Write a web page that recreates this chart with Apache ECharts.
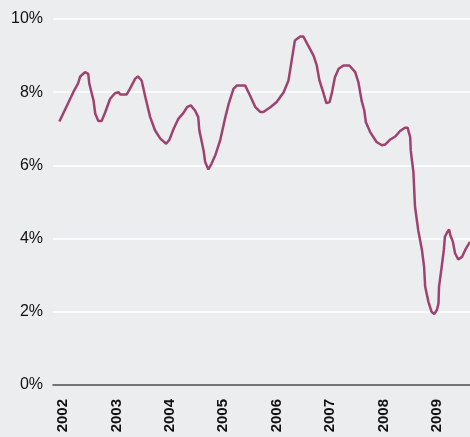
<!DOCTYPE html>
<html>
<head>
<meta charset="utf-8">
<style>
  html, body { margin: 0; padding: 0; background: #ecedef; }
  #chart { width: 470px; height: 437px; }
</style>
<script src="https://cdn.jsdelivr.net/npm/echarts@6/dist/echarts.min.js"></script>
</head>
<body>
<div id="chart"></div>
<script>
// dates as decimal years, rates in percent
var dates = [
  2001.93, 2002.19, 2002.28, 2002.32, 2002.41, 2002.47, 2002.49, 2002.57, 2002.60, 2002.66,
  2002.72, 2002.79, 2002.88, 2002.97, 2003.04, 2003.07, 2003.19, 2003.25, 2003.35, 2003.40,
  2003.47, 2003.54, 2003.63, 2003.72, 2003.82, 2003.93, 2003.99, 2004.07, 2004.16, 2004.25,
  2004.32, 2004.39, 2004.47, 2004.53, 2004.55, 2004.63, 2004.66, 2004.72, 2004.78, 2004.85,
  2004.94, 2005.03, 2005.10, 2005.19, 2005.25, 2005.41, 2005.50, 2005.60, 2005.69, 2005.75,
  2005.88, 2006.00, 2006.13, 2006.22, 2006.25, 2006.30, 2006.34, 2006.44, 2006.50, 2006.59,
  2006.69, 2006.75, 2006.80, 2006.87, 2006.93, 2006.99, 2007.03, 2007.09, 2007.16, 2007.25,
  2007.36, 2007.47, 2007.53, 2007.59, 2007.64, 2007.67, 2007.75, 2007.87, 2007.97, 2008.03,
  2008.12, 2008.22, 2008.31, 2008.40, 2008.45, 2008.50, 2008.51, 2008.56, 2008.59, 2008.65,
  2008.72, 2008.76, 2008.78, 2008.84, 2008.90, 2008.95, 2009.00, 2009.03, 2009.04, 2009.09,
  2009.13, 2009.15, 2009.20, 2009.23, 2009.25, 2009.30, 2009.34, 2009.40, 2009.47, 2009.53,
  2009.62
];
var rates = [
  7.20, 8.00, 8.24, 8.43, 8.55, 8.50, 8.23, 7.77, 7.42, 7.21,
  7.21, 7.46, 7.82, 7.97, 8.00, 7.94, 7.94, 8.09, 8.37, 8.43,
  8.32, 7.86, 7.32, 6.96, 6.73, 6.59, 6.70, 7.00, 7.28, 7.43,
  7.59, 7.64, 7.50, 7.32, 6.96, 6.41, 6.09, 5.89, 6.05, 6.28,
  6.68, 7.27, 7.68, 8.09, 8.18, 8.18, 7.91, 7.59, 7.46, 7.46,
  7.59, 7.73, 8.00, 8.32, 8.59, 9.05, 9.41, 9.52, 9.52, 9.27,
  9.00, 8.73, 8.32, 8.00, 7.70, 7.73, 7.96, 8.41, 8.64, 8.73,
  8.73, 8.55, 8.27, 7.77, 7.50, 7.18, 6.91, 6.64, 6.55, 6.57,
  6.70, 6.79, 6.94, 7.03, 7.03, 6.77, 6.41, 5.82, 4.87, 4.23,
  3.69, 3.23, 2.69, 2.28, 2.00, 1.94, 2.05, 2.23, 2.69, 3.23,
  3.69, 4.05, 4.19, 4.25, 4.10, 3.91, 3.60, 3.43, 3.50, 3.69,
  3.91
];
var yearTicks = [2002, 2003, 2004, 2005, 2006, 2007, 2008, 2009];

var points = [];
for (var i = 0; i < dates.length; i++) {
    points.push([dates[i], rates[i]]);
}

var chart = echarts.init(document.getElementById("chart"));
chart.setOption({
    backgroundColor: "#ecedef",
    animation: false,
    grid: { left: 53, right: 0, top: 19, bottom: 52 },
    xAxis: {
        type: "value",
        min: 2001.81,
        max: 2009.62,
        axisLine: { show: true, lineStyle: { color: "#4a4a4a", width: 1.5 } },
        axisTick: { show: false },
        splitLine: { show: false },
        axisLabel: {
            customValues: yearTicks,
            rotate: 90,
            margin: 14,
            fontSize: 15,
            fontWeight: "bold",
            color: "#111",
            fontFamily: "Liberation Sans, Arial, sans-serif",
            formatter: function(v) { return String(Math.round(v)); }
        }
    },
    yAxis: {
        type: "value",
        min: 0,
        max: 10,
        interval: 2,
        axisLine: { show: false },
        axisTick: { show: false },
        splitLine: { show: true, lineStyle: { color: "#ffffff", width: 1.5 } },
        axisLabel: {
            margin: 10,
            fontSize: 16,
            color: "#111",
            fontFamily: "Liberation Sans, Arial, sans-serif",
            formatter: "{value}%"
        }
    },
    series: [{
        type: "line",
        data: points,
        showSymbol: false,
        smooth: false,
        lineStyle: { color: "#9f4270", width: 2.5 },
        itemStyle: { color: "#9f4270" }
    }]
});
</script>
</body>
</html>
